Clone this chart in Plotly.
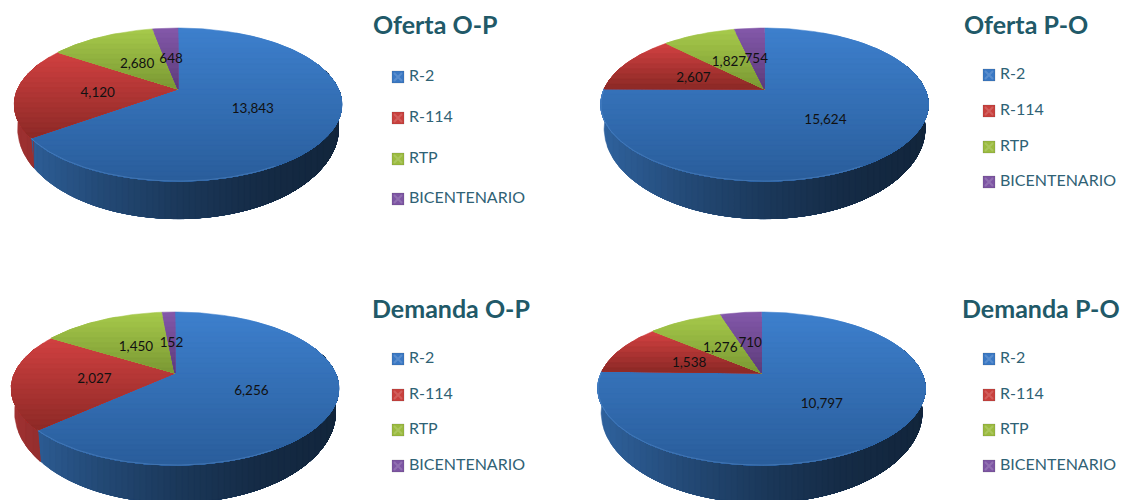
import math
import plotly.graph_objects as go

categories = ["R-2", "R-114", "RTP", "BICENTENARIO"]
titles = ["Oferta O-P", "Oferta P-O", "Demanda O-P", "Demanda P-O"]
oferta_op = [13843, 4120, 2680, 648]
oferta_po = [15624, 2607, 1827, 754]
demanda_op = [6256, 2027, 1450, 152]
demanda_po = [10797, 1538, 1276, 710]
series = [oferta_op, oferta_po, demanda_op, demanda_po]

# layout: pie apex, title centre, legend x and legend rows (pixels)
APEX = [(178, 89), (764.5, 89), (175, 373), (761.5, 373)]
TITLE_POS = [(373, 25), (964, 25), (372, 309), (962, 309)]
LEG_X = [398, 989, 398, 989]
LEG_Y = [[77, 118, 159, 199], [75, 111, 147, 182], [359, 395, 430, 466], [359, 395, 430, 466]]

TOP_C = [(61, 127, 204), (207, 64, 64), (165, 200, 74), (130, 87, 168)]
BOT_C = [(42, 94, 156), (143, 42, 39), (124, 154, 52), (94, 61, 124)]
LEGEND_C = ["#3A78C4", "#C9403D", "#9BBB3F", "#7D55A3"]
TEXT_C = "#2F6275"
TITLE_C = "#215968"
RX, RY, K = 160.3, 73.4, 0.2026
W_X, W_Y, W_D = 0.98, 1.18, 21.0
LABEL_DROP = 3.5


def project(cx, cy, th, r=1.0):
    u, v = r * math.sin(th), -r * math.cos(th)
    d = 1 - K * v
    return cx + RX * u / d, cy + RY * v / d


def lower(cx, cy, p):
    return cx + W_X * (p[0] - cx), cy + W_D + W_Y * (p[1] - cy)


def clip(poly, axis, val):
    out = []
    n = len(poly)
    for i in range(n):
        a, b = poly[i], poly[(i + 1) % n]
        ia, ib = a[axis] >= val, b[axis] >= val
        if ia:
            out.append(a)
        if ia != ib:
            t = (val - a[axis]) / (b[axis] - a[axis])
            out.append((a[0] + t * (b[0] - a[0]), a[1] + t * (b[1] - a[1])))
    return out


def mix(c0, c1, t):
    return tuple(round(c0[i] + (c1[i] - c0[i]) * t) for i in range(3))


def poly_trace(poly, col):
    xs = [p[0] for p in poly] + [poly[0][0]]
    ys = [p[1] for p in poly] + [poly[0][1]]
    c = "rgb(%d,%d,%d)" % col
    return go.Scatter(x=xs, y=ys, mode="lines", fill="toself", fillcolor=c,
                      line=dict(color=c, width=0.5), hoverinfo="skip", showlegend=False)


def wall_shade(f):
    stops = [(0.0, 0.76), (0.25, 0.58), (0.5, 0.44), (0.75, 0.34), (1.0, 0.29)]
    for (f0, s0), (f1, s1) in zip(stops, stops[1:]):
        if f <= f1:
            return s0 + (s1 - s0) * (f - f0) / (f1 - f0)
    return stops[-1][1]


fig = go.Figure()
for ci, vals in enumerate(series):
    cx, cy = APEX[ci]
    total = sum(vals)
    edges = [0.0]
    for val in vals:
        edges.append(edges[-1] + 2 * math.pi * val / total)

    # side walls (front half only), shaded left to right
    vis0, vis1 = math.radians(70), math.radians(290)
    for si in range(4):
        a, b = max(edges[si], vis0), min(edges[si + 1], vis1)
        if b <= a:
            continue
        n = max(4, int((b - a) * 60))
        rim = [project(cx, cy, a + (b - a) * i / n) for i in range(n + 1)]
        poly = rim + [lower(cx, cy, p) for p in reversed(rim)]
        x0 = min(p[0] for p in poly)
        x1 = max(p[0] for p in poly)
        steps = max(2, int((x1 - x0) / 6))
        for k in range(steps):
            xk = x0 + (x1 - x0) * k / steps
            part = clip(poly, 0, xk) if k else poly
            if len(part) < 3:
                continue
            s = wall_shade((xk - (cx - RX)) / (2 * RX))
            col = tuple(round(ch * s) for ch in TOP_C[si])
            fig.add_trace(poly_trace(part, col))

    # top faces, shaded top to bottom within each slice
    for si in range(4):
        a, b = edges[si], edges[si + 1]
        n = max(6, int((b - a) * 60))
        poly = [(cx, cy)] + [project(cx, cy, a + (b - a) * i / n) for i in range(n + 1)]
        y0 = min(p[1] for p in poly)
        y1 = max(p[1] for p in poly)
        steps = max(3, int((y1 - y0) / 5))
        for k in range(steps):
            yk = y0 + (y1 - y0) * k / steps
            part = clip(poly, 1, yk) if k else poly
            if len(part) < 3:
                continue
            fig.add_trace(poly_trace(part, mix(TOP_C[si], BOT_C[si], k / (steps - 1))))

    # light front rim
    a, b = max(edges[0], math.radians(150)), min(edges[1], math.radians(270))
    n = 80
    rim = [project(cx, cy, a + (b - a) * i / n) for i in range(n + 1)]
    fig.add_trace(go.Scatter(x=[p[0] for p in rim], y=[p[1] for p in rim], mode="lines",
                             line=dict(color="rgba(120,170,225,0.3)", width=1),
                             hoverinfo="skip", showlegend=False))

    # data labels at half radius, mid angle
    pts = [project(cx, cy, (edges[i] + edges[i + 1]) / 2, 0.5) for i in range(4)]
    fig.add_trace(go.Scatter(x=[p[0] for p in pts], y=[p[1] + LABEL_DROP for p in pts], mode="text",
                             text=[f"{v:,}" for v in vals], textposition="middle center",
                             textfont=dict(family="Lato", size=13.5, color="#111111"),
                             hoverinfo="skip", showlegend=False))

    # legend
    lx = [LEG_X[ci]] * 4
    fig.add_trace(go.Scatter(x=lx, y=LEG_Y[ci], mode="markers",
                             marker=dict(symbol="square", size=12, color=LEGEND_C,
                                         line=dict(color="rgba(60,60,60,0.3)", width=0.5)),
                             hoverinfo="skip", showlegend=False))
    fig.add_trace(go.Scatter(x=lx, y=LEG_Y[ci], mode="markers",
                             marker=dict(symbol="x-thin", size=8,
                                         line=dict(color="rgba(255,255,255,0.16)", width=2)),
                             hoverinfo="skip", showlegend=False))
    fig.add_trace(go.Scatter(x=[x + 11 for x in lx], y=LEG_Y[ci], mode="text", text=categories,
                             textposition="middle right",
                             textfont=dict(family="Lato", size=16, color=TEXT_C),
                             hoverinfo="skip", showlegend=False))

    # title
    tx, ty = TITLE_POS[ci]
    fig.add_annotation(x=tx, y=ty, text=f"<b>{titles[ci]}</b>", showarrow=False,
                       xanchor="left", yanchor="middle", xshift=-2, yshift=1,
                       font=dict(family="Lato", size=25, color=TITLE_C))

fig.update_layout(width=1124, height=500, margin=dict(l=0, r=0, t=0, b=0),
                  paper_bgcolor="white", plot_bgcolor="white", showlegend=False,
                  xaxis=dict(range=[0, 1124], visible=False, fixedrange=True),
                  yaxis=dict(range=[500, 0], visible=False, fixedrange=True))
fig.write_html("out.html", config={"displayModeBar": False},
               post_script="document.body.style.margin='0';document.body.style.overflow='hidden';")
